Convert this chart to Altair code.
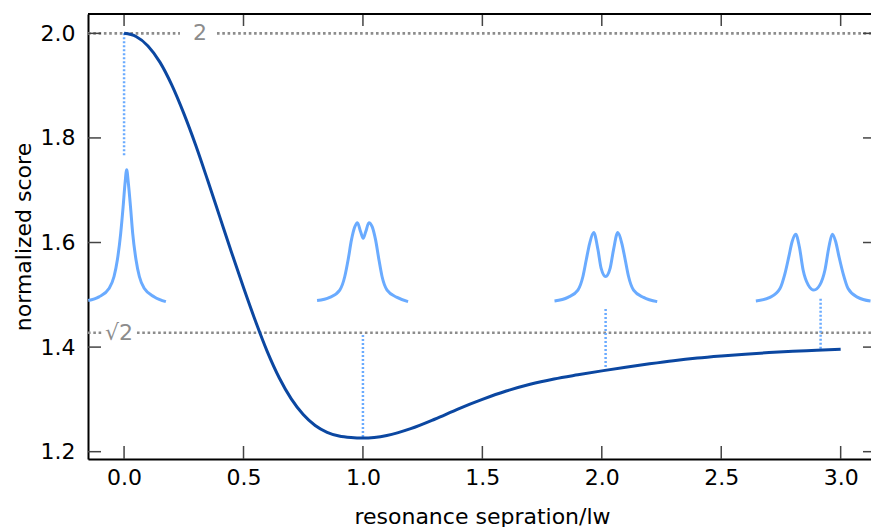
import altair as alt
import pandas as pd

# ---------------- data ----------------
curve_x = [0.0, 0.05, 0.10, 0.15, 0.20, 0.25, 0.30, 0.35, 0.40, 0.45, 0.50, 0.55, 0.60, 0.65,
           0.70, 0.75, 0.80, 0.85, 0.90, 0.95, 1.0, 1.1, 1.2, 1.3, 1.4, 1.5, 1.6, 1.7, 1.8,
           1.9, 2.0, 2.1, 2.2, 2.3, 2.4, 2.5, 2.6, 2.7, 2.8, 2.9, 3.0]
curve_y = [2.000, 1.994, 1.976, 1.945, 1.901, 1.847, 1.786, 1.719, 1.650, 1.581, 1.514, 1.450,
           1.391, 1.341, 1.301, 1.271, 1.250, 1.237, 1.230, 1.227, 1.226, 1.231, 1.244, 1.262,
           1.282, 1.300, 1.316, 1.329, 1.339, 1.347, 1.3545, 1.3615, 1.368, 1.374, 1.379, 1.383,
           1.3865, 1.3895, 1.392, 1.394, 1.396]

# small line-shape insets (separation 0, 1, 2, 3)
inset0_x = [-0.150, -0.105, -0.063, -0.042, -0.028, -0.014, -0.004, 0.004, 0.011, 0.018, 0.027,
            0.036, 0.050, 0.064, 0.085, 0.127, 0.175]
inset0_y = [1.489, 1.496, 1.512, 1.535, 1.567, 1.618, 1.668, 1.713, 1.739, 1.713, 1.668,
            1.618, 1.567, 1.535, 1.512, 1.496, 1.487]

inset1_x = [0.808, 0.861, 0.903, 0.924, 0.938, 0.952, 0.966, 0.977, 0.990, 1.001, 1.012, 1.025,
            1.039, 1.053, 1.067, 1.080, 1.101, 1.143, 1.189]
inset1_y = [1.489, 1.495, 1.509, 1.535, 1.567, 1.605, 1.630, 1.638, 1.621, 1.608, 1.621, 1.638,
            1.630, 1.605, 1.567, 1.535, 1.509, 1.495, 1.487]

inset2_x = [1.802, 1.858, 1.900, 1.921, 1.935, 1.949, 1.966, 1.984, 1.997, 2.016, 2.035, 2.049,
            2.067, 2.084, 2.098, 2.112, 2.133, 2.175, 2.232]
inset2_y = [1.488, 1.495, 1.509, 1.535, 1.567, 1.598, 1.619, 1.586, 1.551, 1.535, 1.551, 1.586,
            1.619, 1.598, 1.567, 1.535, 1.509, 1.495, 1.487]

inset3_x = [2.645, 2.704, 2.746, 2.767, 2.783, 2.797, 2.812, 2.827, 2.843, 2.864, 2.888, 2.913,
            2.934, 2.951, 2.965, 2.979, 2.993, 3.010, 3.031, 3.072, 3.125]
inset3_y = [1.488, 1.495, 1.512, 1.541, 1.573, 1.602, 1.616, 1.592, 1.547, 1.519, 1.509, 1.519,
            1.547, 1.592, 1.616, 1.602, 1.573, 1.541, 1.512, 1.495, 1.488]

# vertical dotted markers
vline_x = [0.0, 1.0, 2.016, 2.916]
vline_top = [2.0, 1.423, 1.473, 1.4925]
vline_bottom = [1.765, 1.2275, 1.355, 1.3956]

# grey reference lines (split around their labels)
ref_y = [2.0, 2.0, 1.4275, 1.4275]
ref_x1 = [-0.151, 0.389, -0.151, 0.054]
ref_x2 = [0.234, 3.127, -0.089, 3.127]
ref_label = ["2", "√2"]
ref_label_x = [0.318, -0.021]
ref_label_y = [2.0, 1.4275]

x_ticks = [0.0, 0.5, 1.0, 1.5, 2.0, 2.5, 3.0]
y_ticks = [1.2, 1.4, 1.6, 1.8, 2.0]

x_domain = [-0.151, 3.127]
y_domain = [1.186, 2.037]

# ---------------- styling ----------------
W, H = 783, 445
FONT = "DejaVu Sans"
DARK = "#0b47a1"
LIGHT = "#6aabff"
GREY = "#8c8c8c"

curve_df = pd.DataFrame({"x": curve_x, "y": curve_y})
ins = []
for g, (xs_, ys_) in enumerate([(inset0_x, inset0_y), (inset1_x, inset1_y),
                                (inset2_x, inset2_y), (inset3_x, inset3_y)]):
    for i, (a, b) in enumerate(zip(xs_, ys_)):
        ins.append({"g": g, "i": i, "x": a, "y": b})
inset_df = pd.DataFrame(ins)
vline_df = pd.DataFrame({"x": vline_x, "y": vline_top, "y2": vline_bottom})
ref_df = pd.DataFrame({"x": ref_x1, "x2": ref_x2, "y": ref_y})
lab_df = pd.DataFrame({"x": ref_label_x, "y": ref_label_y, "t": ref_label})
xt_df = pd.DataFrame({"v": x_ticks})
yt_df = pd.DataFrame({"v": y_ticks})

xs = alt.Scale(domain=x_domain, nice=False, zero=False)
ys = alt.Scale(domain=y_domain, nice=False, zero=False)

x_axis = alt.Axis(values=x_ticks, format=".1f", title="resonance sepration/lw",
                  labelFont=FONT, labelFontSize=22, labelColor="#000", labelPadding=8,
                  ticks=False, grid=False, domainColor="#000", domainWidth=2,
                  titleFont=FONT, titleFontSize=22, titleFontWeight="normal", titleColor="#000",
                  titleBaseline="alphabetic", titleY=64, titleX=394)
y_axis = alt.Axis(values=y_ticks, format=".1f", title="normalized score",
                  labelFont=FONT, labelFontSize=22, labelColor="#000", labelPadding=13,
                  ticks=False, grid=False, domainColor="#000", domainWidth=2,
                  titleFont=FONT, titleFontSize=22, titleFontWeight="normal", titleColor="#000",
                  titleAngle=270, titleBaseline="alphabetic", titleAlign="center",
                  titleX=-58, titleY=H / 2)

base_x = alt.X("x:Q", scale=xs, axis=x_axis)
base_y = alt.Y("y:Q", scale=ys, axis=y_axis)

refs = alt.Chart(ref_df).mark_rule(color=GREY, strokeWidth=2.6, strokeDash=[2.6, 2.7]).encode(
    x=base_x, x2="x2:Q", y=base_y)
labels = alt.Chart(lab_df).mark_text(font=FONT, fontSize=22, color=GREY, baseline="middle",
                                     align="center").encode(
    x=alt.X("x:Q", scale=xs), y=alt.Y("y:Q", scale=ys), text="t:N")
vlines = alt.Chart(vline_df).mark_rule(color=LIGHT, strokeWidth=2.5, strokeDash=[2, 2]).encode(
    x=alt.X("x:Q", scale=xs), y=alt.Y("y:Q", scale=ys), y2="y2:Q")
insets = alt.Chart(inset_df).mark_line(color=LIGHT, strokeWidth=3, interpolate="monotone").encode(
    x=alt.X("x:Q", scale=xs), y=alt.Y("y:Q", scale=ys), detail="g:N", order="i:Q")
curve = alt.Chart(curve_df).mark_line(color=DARK, strokeWidth=3, interpolate="monotone").encode(
    x=alt.X("x:Q", scale=xs), y=alt.Y("y:Q", scale=ys))

TICK = "#444"
xt_bottom = alt.Chart(xt_df).mark_rule(color=TICK, strokeWidth=1.5).encode(
    x=alt.X("v:Q", scale=xs), y=alt.value(H), y2=alt.value(H - 13))
xt_top = alt.Chart(xt_df).mark_rule(color=TICK, strokeWidth=1.5).encode(
    x=alt.X("v:Q", scale=xs), y=alt.value(0), y2=alt.value(12))
yt_left = alt.Chart(yt_df).mark_rule(color=TICK, strokeWidth=1.5).encode(
    y=alt.Y("v:Q", scale=ys), x=alt.value(0), x2=alt.value(13))
yt_right = alt.Chart(yt_df).mark_rule(color=TICK, strokeWidth=1.5).encode(
    y=alt.Y("v:Q", scale=ys), x=alt.value(W - 8), x2=alt.value(W))
top_border = alt.Chart(xt_df).mark_rule(color="#000", strokeWidth=2).encode(
    x=alt.value(0), x2=alt.value(W), y=alt.value(0))

chart = alt.layer(
    refs, labels, vlines, insets, curve, xt_bottom, xt_top, yt_left, yt_right, top_border
).properties(
    width=W, height=H,
    padding={"left": 88, "top": 14, "right": 0, "bottom": 68},
    autosize=alt.AutoSizeParams(type="none"),
).configure_view(stroke=None).configure(background="white")

chart.save("out.html", embed_options={"renderer": "svg", "actions": False})
